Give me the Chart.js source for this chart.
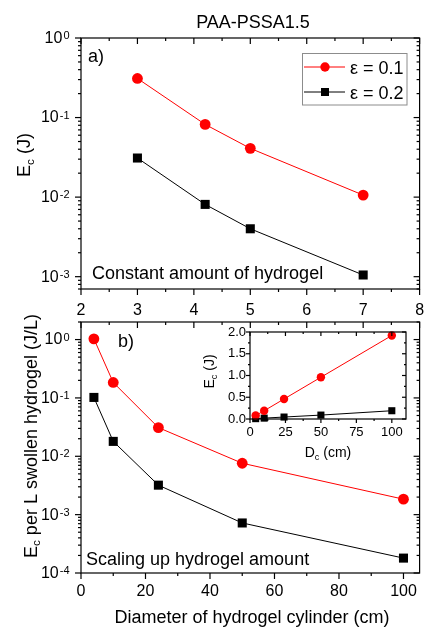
<!DOCTYPE html>
<html>
<head>
<meta charset="utf-8">
<script src="https://cdn.jsdelivr.net/npm/chart.js@4.4.0/dist/chart.umd.min.js"></script>
<style>
  body { margin: 0; background: #fff; }
  #wrap { position: relative; width: 426px; height: 627px; }
  #wrap canvas { position: absolute; left: 0; top: 0; }
</style>
</head>
<body>
<div id="wrap">
  <canvas id="topChart" width="426" height="627"></canvas>
  <canvas id="bottomChart" width="426" height="627"></canvas>
  <canvas id="insetChart" width="426" height="627"></canvas>
</div>
<script>
const FONT = '"Liberation Sans", Arial, Helvetica, sans-serif';
const RED = '#ff0000';
const BLACK = '#000000';

// panel a) - constant amount of hydrogel
const topX = [3, 4.2, 5, 7];
const topEc01 = [0.31, 0.082, 0.041, 0.0106];
const topEc02 = [0.031, 0.0081, 0.0040, 0.00105];

// panel b) - scaling up, per litre of swollen gel
const diameters = [4, 10, 24, 50, 100];
const perLitre01 = [1.03, 0.184, 0.031, 0.0076, 0.00184];
const perLitre02 = [0.102, 0.018, 0.0032, 0.00072, 0.00018];

// inset - total Ec vs diameter
const insetEc01 = [0.08, 0.19, 0.46, 0.96, 1.92];
const insetEc02 = [0.008, 0.02, 0.045, 0.09, 0.19];

const strainLabels = ['ε = 0.1', 'ε = 0.2'];

const topXTicks = [2, 3, 4, 5, 6, 7, 8];
const topYDecades = [1e-3, 1e-2, 1e-1, 1];
const bottomXTicks = [0, 20, 40, 60, 80, 100];
const bottomYDecades = [1e-4, 1e-3, 1e-2, 1e-1, 1];
const insetXTicks = [0, 25, 50, 75, 100];
const insetYTicks = [0, 0.5, 1.0, 1.5, 2.0];

function midpoints(ticks) {
  const out = [];
  for (let i = 0; i < ticks.length - 1; i++) out.push((ticks[i] + ticks[i + 1]) / 2);
  return out;
}

function logMinors(min, max) {
  const out = [];
  for (let e = Math.floor(Math.log10(min)); e <= Math.ceil(Math.log10(max)); e++) {
    for (let m = 2; m <= 9; m++) {
      const v = m * Math.pow(10, e);
      if (v >= min && v <= max) out.push(v);
    }
  }
  return out;
}

function points(xs, ys) {
  return xs.map((x, i) => ({ x: x, y: ys[i] }));
}

function series(xs, ys, color, style, radius) {
  return {
    data: points(xs, ys),
    borderColor: color,
    backgroundColor: color,
    borderWidth: 1,
    pointStyle: style,
    pointRadius: radius,
    pointBorderWidth: 0,
    pointBackgroundColor: color,
    tension: 0,
    clip: false
  };
}

// text with sub/superscript pieces: parts = [[text, 'sub'|'sup'|undefined], ...]
function richText(ctx, parts, x, y, size, align, rotated) {
  ctx.save();
  ctx.translate(x, y);
  if (rotated) ctx.rotate(-Math.PI / 2);
  ctx.fillStyle = '#000';
  ctx.textAlign = 'left';
  ctx.textBaseline = 'alphabetic';
  const small = size * 0.65;
  let w = 0;
  parts.forEach(([t, k]) => {
    ctx.font = `${k ? small : size}px ${FONT}`;
    w += ctx.measureText(t).width;
  });
  let cx = align === 'right' ? -w : align === 'center' ? -w / 2 : 0;
  parts.forEach(([t, k]) => {
    ctx.font = `${k ? small : size}px ${FONT}`;
    const dy = k === 'sub' ? size * 0.22 : k === 'sup' ? -size * 0.42 : 0;
    ctx.fillText(t, cx, dy);
    cx += ctx.measureText(t).width;
  });
  ctx.restore();
}

function decadeLabels(ctx, scale, values, xRight) {
  ctx.save();
  ctx.fillStyle = '#000';
  ctx.textAlign = 'right';
  ctx.textBaseline = 'middle';
  values.forEach(v => {
    const y = scale.getPixelForValue(v);
    const exp = String(Math.round(Math.log10(v)));
    ctx.font = `11px ${FONT}`;
    const ew = ctx.measureText(exp).width;
    ctx.fillText(exp, xRight, y - 2);
    ctx.font = `16px ${FONT}`;
    ctx.fillText('10', xRight - ew - 1, y + 0.5);
  });
  ctx.restore();
}

// box around the plot area plus major/minor tick marks on each side
function framePlugin(cfg) {
  return {
    id: 'frame',
    afterDraw(chart) {
      const ctx = chart.ctx;
      const a = chart.chartArea;
      ctx.save();
      ctx.strokeStyle = '#000';
      ctx.lineWidth = 1.2;
      ctx.strokeRect(a.left, a.top, a.right - a.left, a.bottom - a.top);
      cfg.sides.forEach(s => {
        const scale = chart.scales[s.scale];
        const mark = (v, len) => {
          const p = scale.getPixelForValue(v);
          const d = s.out ? -len : len;
          ctx.beginPath();
          if (s.edge === 'left') { ctx.moveTo(a.left, p); ctx.lineTo(a.left + d, p); }
          if (s.edge === 'right') { ctx.moveTo(a.right, p); ctx.lineTo(a.right - d, p); }
          if (s.edge === 'bottom') { ctx.moveTo(p, a.bottom); ctx.lineTo(p, a.bottom - d); }
          if (s.edge === 'top') { ctx.moveTo(p, a.top); ctx.lineTo(p, a.top + d); }
          ctx.stroke();
        };
        s.major.forEach(v => mark(v, cfg.major));
        s.minor.forEach(v => mark(v, cfg.minor));
      });
      ctx.restore();
      if (cfg.text) cfg.text(ctx, chart);
    }
  };
}

function fixTicks(values) {
  return s => { s.ticks = values.map(v => ({ value: v })); };
}

function fixSize(w, h) {
  return s => {
    if (w !== null) s.width = w;
    if (h !== null) s.height = h;
    s.paddingLeft = 0; s.paddingRight = 0; s.paddingTop = 0; s.paddingBottom = 0;
  };
}

const hiddenGrid = { display: false, drawTicks: false };
const noBorder = { display: false };

// ---------- panel a ----------
const topMin = 7e-4, topMax = 1;
new Chart(document.getElementById('topChart'), {
  type: 'line',
  data: {
    datasets: [
      series(topX, topEc01, RED, 'circle', 5.4),
      series(topX, topEc02, BLACK, 'rect', 6.4)
    ]
  },
  options: {
    responsive: false,
    animation: false,
    devicePixelRatio: 1,
    layout: { padding: { left: 0, top: 38, right: 3, bottom: 305 } },
    plugins: { legend: { display: false }, tooltip: { enabled: false } },
    scales: {
      x: {
        type: 'linear', min: 2, max: 8,
        grid: hiddenGrid, border: noBorder,
        afterBuildTicks: fixTicks(topXTicks),
        afterFit: fixSize(null, 33),
        ticks: { font: { size: 16, family: FONT }, color: '#000', padding: 12, maxRotation: 0, autoSkip: false }
      },
      y: {
        type: 'logarithmic', min: topMin, max: topMax,
        grid: hiddenGrid, border: noBorder,
        ticks: { display: false },
        afterFit: fixSize(81, null)
      }
    }
  },
  plugins: [framePlugin({
    major: 6, minor: 3,
    sides: [
      { scale: 'y', edge: 'left', out: true, major: topYDecades, minor: logMinors(topMin, topMax) },
      { scale: 'y', edge: 'right', out: false, major: topYDecades, minor: logMinors(topMin, topMax) },
      { scale: 'x', edge: 'bottom', out: true, major: topXTicks, minor: midpoints(topXTicks) },
      { scale: 'x', edge: 'top', out: false, major: topXTicks, minor: midpoints(topXTicks) }
    ],
    text(ctx, chart) {
      decadeLabels(ctx, chart.scales.y, topYDecades, 69.5);
      ctx.save();
      ctx.fillStyle = '#000';
      ctx.font = `18px ${FONT}`;
      ctx.textAlign = 'center';
      ctx.fillText('PAA-PSSA1.5', 253, 28);
      ctx.textAlign = 'left';
      ctx.fillText('a)', 88, 62);
      ctx.fillText('Constant amount of hydrogel', 92, 279);

      // legend
      ctx.strokeStyle = '#8c8c8c';
      ctx.lineWidth = 1;
      ctx.strokeRect(302.5, 53.5, 104.5, 51.5);
      const rows = [
        { y: 67, color: RED, style: 'circle', label: strainLabels[0] },
        { y: 92, color: BLACK, style: 'rect', label: strainLabels[1] }
      ];
      rows.forEach(r => {
        ctx.strokeStyle = r.color;
        ctx.beginPath();
        ctx.moveTo(304, r.y);
        ctx.lineTo(345, r.y);
        ctx.stroke();
        ctx.fillStyle = r.color;
        ctx.beginPath();
        if (r.style === 'circle') ctx.arc(325, r.y, 4.7, 0, Math.PI * 2);
        else ctx.rect(321, r.y - 4, 8, 8);
        ctx.fill();
        ctx.fillStyle = '#000';
        ctx.fillText(r.label, 350, r.y + 6.5);
      });
      ctx.restore();
      richText(ctx, [['E'], ['c', 'sub'], [' (J)']], 30, 155, 18, 'center', true);
    }
  })]
});

// ---------- panel b ----------
const botMin = 1e-4, botMax = 2;
new Chart(document.getElementById('bottomChart'), {
  type: 'line',
  data: {
    datasets: [
      series(diameters, perLitre01, RED, 'circle', 5.4),
      series(diameters, perLitre02, BLACK, 'rect', 6.4)
    ]
  },
  options: {
    responsive: false,
    animation: false,
    devicePixelRatio: 1,
    layout: { padding: { left: 0, top: 322, right: 3, bottom: 0 } },
    plugins: { legend: { display: false }, tooltip: { enabled: false } },
    scales: {
      x: {
        type: 'linear', min: 0, max: 105,
        grid: hiddenGrid, border: noBorder,
        afterBuildTicks: fixTicks(bottomXTicks),
        afterFit: fixSize(null, 54),
        ticks: { font: { size: 16, family: FONT }, color: '#000', padding: 9, maxRotation: 0, autoSkip: false }
      },
      x2: { type: 'linear', position: 'top', display: false, min: 2, max: 8 },
      y: {
        type: 'logarithmic', min: botMin, max: botMax,
        grid: hiddenGrid, border: noBorder,
        ticks: { display: false },
        afterFit: fixSize(81, null)
      }
    }
  },
  plugins: [framePlugin({
    major: 6, minor: 3,
    sides: [
      { scale: 'y', edge: 'left', out: true, major: bottomYDecades, minor: logMinors(botMin, botMax) },
      { scale: 'y', edge: 'right', out: false, major: bottomYDecades, minor: logMinors(botMin, botMax) },
      { scale: 'x', edge: 'bottom', out: true, major: bottomXTicks, minor: midpoints(bottomXTicks) },
      { scale: 'x2', edge: 'top', out: false, major: topXTicks, minor: midpoints(topXTicks) }
    ],
    text(ctx, chart) {
      decadeLabels(ctx, chart.scales.y, bottomYDecades, 69.5);
      ctx.save();
      ctx.fillStyle = '#000';
      ctx.font = `18px ${FONT}`;
      ctx.textAlign = 'left';
      ctx.fillText('b)', 118, 347);
      ctx.fillText('Scaling up hydrogel amount', 86, 565);
      ctx.textAlign = 'center';
      ctx.fillText('Diameter of hydrogel cylinder (cm)', 252, 623);
      ctx.restore();
      richText(ctx, [['E'], ['c', 'sub'], [' per L swollen hydrogel (J/L)']], 36.5, 436, 18, 'center', true);
    }
  })]
});

// ---------- inset ----------
new Chart(document.getElementById('insetChart'), {
  type: 'line',
  data: {
    datasets: [
      series(diameters, insetEc01, RED, 'circle', 4.2),
      series(diameters, insetEc02, BLACK, 'rect', 5)
    ]
  },
  options: {
    responsive: false,
    animation: false,
    devicePixelRatio: 1,
    layout: { padding: { left: 0, top: 332, right: 20, bottom: 178 } },
    plugins: { legend: { display: false }, tooltip: { enabled: false } },
    scales: {
      x: {
        type: 'linear', min: 0, max: 110,
        grid: hiddenGrid, border: noBorder,
        afterBuildTicks: fixTicks(insetXTicks),
        afterFit: fixSize(null, 30),
        ticks: { font: { size: 13, family: FONT }, color: '#000', padding: 6, maxRotation: 0, autoSkip: false }
      },
      y: {
        type: 'linear', min: 0, max: 2,
        grid: hiddenGrid, border: noBorder,
        afterBuildTicks: fixTicks(insetYTicks),
        afterFit: fixSize(250, null),
        ticks: { font: { size: 13, family: FONT }, color: '#000', padding: 4, callback: v => v.toFixed(1) }
      }
    }
  },
  plugins: [framePlugin({
    major: 4, minor: 2,
    sides: [
      { scale: 'y', edge: 'left', out: true, major: insetYTicks, minor: midpoints(insetYTicks) },
      { scale: 'y', edge: 'right', out: false, major: insetYTicks, minor: midpoints(insetYTicks) },
      { scale: 'x', edge: 'bottom', out: true, major: insetXTicks, minor: midpoints(insetXTicks) },
      { scale: 'x', edge: 'top', out: false, major: insetXTicks, minor: midpoints(insetXTicks) }
    ],
    text(ctx) {
      richText(ctx, [['E'], ['c', 'sub'], [' (J)']], 214, 371.5, 14, 'center', true);
      richText(ctx, [['D'], ['c', 'sub'], [' (cm)']], 328, 457, 14, 'center', false);
    }
  })]
});
</script>
</body>
</html>
